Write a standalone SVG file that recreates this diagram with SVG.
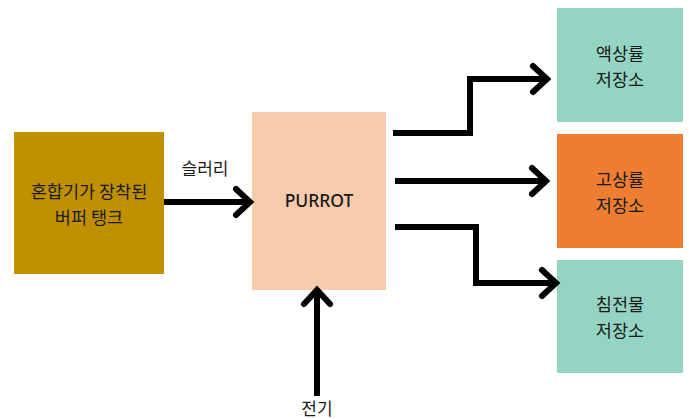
<svg xmlns="http://www.w3.org/2000/svg" width="689" height="419" viewBox="0 0 689 419">
<style>
text{font-family:"Noto Sans CJK KR","Noto Sans",sans-serif;font-size:17.5px;fill:#1a1a1a;text-anchor:middle}
.lbl{font-size:17px}
.conn{fill:none;stroke:#000;stroke-width:6;stroke-linejoin:miter}
.teal{fill:#94D4C2}
</style>
<defs>
<marker id="head" markerUnits="userSpaceOnUse" markerWidth="40" markerHeight="40" refX="-4" refY="0" orient="auto" overflow="visible">
<path d="M-14,-13 L0,0 L-14,13" fill="none" stroke="#000" stroke-width="6" stroke-linecap="round" stroke-linejoin="miter"/>
</marker>
</defs>
<rect width="689" height="419" fill="#fff"/>
<g id="buffer-tank">
<rect x="14" y="132" width="150" height="142" fill="#C09000"/>
<text x="89" y="197.5">혼합기가 장착된</text>
<text x="89" y="223.5">버퍼 탱크</text>
</g>
<g id="purrot">
<rect x="252" y="112" width="134" height="178" fill="#F8CBAD"/>
<text x="319" y="207" style="font-family:'Noto Sans',sans-serif;font-size:17.5px;font-weight:500">PURROT</text>
</g>
<g id="liquid-storage">
<rect class="teal" x="557" y="8" width="126" height="114"/>
<text x="620" y="60">액상률</text>
<text x="620" y="86">저장소</text>
</g>
<g id="high-storage">
<rect x="557" y="134" width="126" height="114" fill="#ED7D31"/>
<text x="620" y="186">고상률</text>
<text x="620" y="212">저장소</text>
</g>
<g id="sediment-storage">
<rect class="teal" x="557" y="260" width="126" height="113"/>
<text x="620" y="311">침전물</text>
<text x="620" y="337">저장소</text>
</g>
<g id="connectors">
<path class="conn" d="M164,202 H246" marker-end="url(#head)"/>
<path class="conn" d="M393,133 H470 V79 H543" marker-end="url(#head)"/>
<path class="conn" d="M395,181 H542" marker-end="url(#head)"/>
<path class="conn" d="M395,227 H476 V283 H552" marker-end="url(#head)"/>
<path class="conn" d="M317,396 V294" marker-end="url(#head)"/>
</g>
<g id="labels">
<text class="lbl" x="205" y="175">슬러리</text>
<text class="lbl" x="317" y="415">전기</text>
</g>
</svg>
